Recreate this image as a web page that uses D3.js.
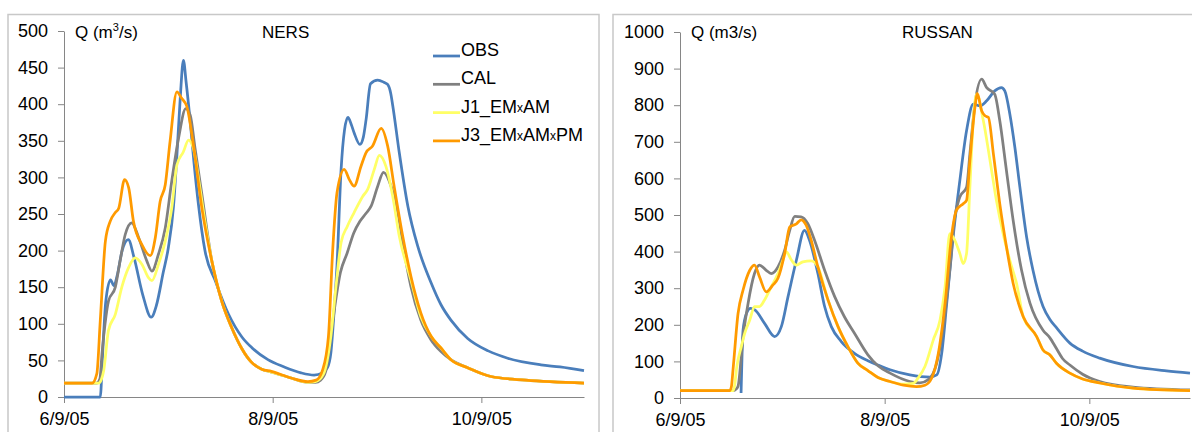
<!DOCTYPE html>
<html>
<head>
<meta charset="utf-8">
<script src="https://cdn.jsdelivr.net/npm/d3@7"></script>
<style>
  body { margin: 0; background: #fff; }
  svg text { font-family: "Liberation Sans", Arial, sans-serif; fill: #000; }
  .axis path, .axis line { stroke: #868686; }
</style>
</head>
<body>
<div id="chart"></div>
<script>
// days counted from 6/9/05, values in m3/s
const nersObs = [[0,0],[10.6,0],[11.3,60],[12.2,130],[13.6,160],[14.6,152],[15.5,165],[17,200],[18.8,215],[20.5,190],[23,140],[25.5,109],[27,125],[29,170],[30.5,204],[32,260],[33,330],[34,410],[34.9,460],[35.7,430],[36.9,376],[38,320],[39.3,263],[41.2,200],[44.2,159],[48.1,113],[52,82],[55,67],[59.6,51],[64.4,41],[69.3,33],[73.1,30],[75.5,33],[77,40],[78,60],[79,120],[79.8,180],[81,311],[82,365],[83,382],[84,372],[84.8,361],[86.5,345],[87.5,355],[88.3,379],[89.6,428],[91.7,433],[93.5,430],[94.6,427],[95.5,415],[96.1,398],[98,334],[100.5,261],[103.4,206],[107.3,156],[110.2,126],[113.1,105],[118,80],[124,63],[129.7,53],[139.4,44],[145,41],[152,36]];
const nersCal = [[0,19],[9.5,19],[10.5,25],[11.1,59],[12,100],[13,131],[15,150],[16.4,186],[17.9,222],[19.8,238],[21.8,218],[24.2,186],[25.7,172],[27.6,195],[29.6,231],[31.5,295],[33.5,354],[35.6,394],[36.9,385],[38.3,340],[40.3,277],[43.2,186],[46.1,131],[49,95],[52,66],[54.7,48],[57.8,38],[60.6,34],[66.4,26],[71.3,20],[73.5,20],[75,23],[76.5,35],[77.4,60],[78.9,115],[80.8,170],[82.8,197],[84.7,224],[86.5,240],[88.3,251],[89.8,261],[91.7,288],[93.4,307],[95.6,288],[97.6,251],[99.5,197],[101.4,151],[104.3,105],[107.3,78],[110.2,62],[113.1,51],[118,40],[124.8,28],[135,23],[152,19]];
const nersJ1 = [[0,19],[10.1,19],[11,25],[11.6,36],[13,91],[15,113],[16.9,150],[18.9,177],[20.8,190],[22.8,181],[24.7,163],[25.7,159],[27.6,181],[29.6,213],[31.5,258],[33,317],[34.9,335],[36.4,351],[37.8,340],[39.3,299],[41.2,240],[43.2,186],[46.1,131],[49,95],[52,66],[54.7,48],[57.8,38],[60.6,34],[66.4,26],[71.3,20],[73.5,21],[75.9,32],[78,83],[79.5,151],[81,211],[82.8,233],[84.7,251],[87.3,274],[88.8,284],[90.7,311],[92.2,330],[94.1,315],[96.1,274],[98,220],[101.4,160],[104.3,110],[107.3,83],[110.2,67],[113.1,51],[118,40],[124.8,28],[135,23],[152,19]];
const nersJ3 = [[0,19],[8.2,19],[9.6,32],[10.6,104],[12.1,213],[13.5,240],[15,252],[16,258],[17.7,297],[18.9,286],[20.3,240],[22.8,208],[25.2,193],[26.7,218],[28.1,267],[29.6,290],[31,349],[33,417],[34.4,408],[35.9,397],[37.8,345],[40.3,258],[43.2,186],[46.1,131],[49,95],[52,66],[54.7,48],[57.8,38],[60.6,35],[66.4,26],[71.3,21],[73.7,23],[75.6,37],[77.3,83],[78.5,197],[79.8,279],[81.9,311],[83.4,297],[84.8,288],[86.8,315],[88.3,334],[90.2,343],[92.7,367],[94.6,343],[96.5,288],[99,220],[101.4,165],[104.3,115],[107.3,83],[110.2,67],[113.1,51],[118,40],[124.8,28],[135,23],[152,19]];

const russObs = [[18.2,14],[18.5,120],[18.8,186],[19.8,231],[21,245],[22.4,240],[25.2,204],[28.2,168],[30.2,195],[32.2,277],[34.7,377],[37.1,458],[38.6,431],[41.1,340],[43.1,250],[45.1,195],[48,155],[52,122],[56,102],[59,90],[62.6,77],[68.5,63],[74.5,57],[76.5,63],[78,122],[79.5,259],[81.4,440],[83.4,594],[85.4,730],[87.4,803],[89.4,798],[91.4,812],[93.8,839],[95.8,848],[96.8,839],[98.3,776],[99.8,685],[101.3,576],[103.3,440],[105.2,349],[108.2,250],[110.2,215],[112.2,192],[116.2,150],[120,128],[125.1,109],[135,86],[145,74],[152,68]];
const russCal = [[0,20],[15.8,20],[16.8,25],[17.3,32],[18.8,168],[20.3,259],[22.2,340],[23.7,363],[25.7,349],[27.2,340],[29.2,358],[31.2,404],[32.7,458],[34.2,496],[36.1,495],[38.1,476],[40.1,431],[43.1,349],[46.1,277],[49,222],[52,177],[56,118],[59,88],[62.6,68],[68.5,45],[71.5,41],[74,50],[76.5,95],[78.5,195],[80.4,349],[81.9,494],[83.4,549],[85.4,576],[86.4,667],[87.9,803],[89.9,871],[91.4,848],[93.8,830],[95.3,758],[97.3,621],[99.3,485],[101.8,349],[104.3,259],[108.2,185],[110.2,165],[112.2,135],[114,108],[116.2,90],[120,65],[125.1,45],[135,30],[152,22]];
const russJ1 = [[0,20],[15.8,20],[16.3,35],[16.8,77],[18.3,141],[19.3,177],[20.8,213],[22.2,250],[23.7,250],[25.2,268],[27.2,304],[29.2,340],[30.7,377],[31.7,399],[33.2,377],[34.7,363],[36.6,372],[39.1,375],[41.1,358],[44.1,268],[47.1,195],[50,141],[53,95],[56,75],[59,56],[62.6,45],[66.6,38],[69.5,40],[71,55],[73,86],[75.5,159],[77.5,213],[79,304],[80.4,449],[81.9,431],[83.4,395],[84.4,367],[85.4,395],[86.4,576],[87.4,758],[88.4,830],[90.4,758],[92.4,649],[94.3,540],[96.3,449],[98.3,376],[100.3,313],[102.3,222],[106.3,168],[108.2,131],[110.2,118],[112.2,95],[116.2,68],[120,52],[125.1,41],[135,27],[152,20]];
const russJ3 = [[0,20],[14.8,20],[15.3,30],[15.8,77],[17.3,231],[18.8,295],[20.8,349],[22.2,363],[23.7,331],[25.7,290],[27.7,309],[29.2,327],[31.2,395],[32.7,467],[34.7,476],[36.1,487],[37.6,472],[39.1,431],[41.1,358],[44.1,268],[47.1,195],[50,141],[53,95],[56,75],[59,56],[62.6,45],[66.6,35],[70.5,31],[73,35],[75,54],[77,122],[79,259],[80.9,440],[82.4,513],[84.4,531],[85.4,540],[86.4,649],[87.9,794],[88.6,832],[89.9,785],[90.9,771],[91.9,767],[93.4,667],[95.3,531],[97.3,413],[99.3,313],[102.3,222],[106.3,168],[108.2,131],[110.2,118],[112.2,95],[116.2,68],[120,52],[125.1,41],[135,27],[152,20]];

const seriesNames = ["OBS", "CAL", "J1_EMxAM", "J3_EMxAMxPM"];
const seriesColors = ["#4a7ebb", "#808080", "#ffff66", "#ff9a00"];
const dateTicks = ["6/9/05", "8/9/05", "10/9/05"];
const nersTicks = [0, 50, 100, 150, 200, 250, 300, 350, 400, 450, 500];
const russTicks = [0, 100, 200, 300, 400, 500, 600, 700, 800, 900, 1000];

const parseDate = d3.timeParse("%m/%d/%y");
const start = parseDate("6/9/05");
const end = d3.timeDay.offset(start, 152);
const toDate = d => new Date(start.getTime() + d * 864e5);

const svg = d3.select("#chart").append("svg")
    .attr("width", 1192)
    .attr("height", 432);

function drawPanel(opt) {
    // outer frame
    svg.append("rect")
        .attr("x", opt.frameX).attr("y", 14.5)
        .attr("width", opt.frameW).attr("height", 440)
        .attr("fill", "none").attr("stroke", "#c8c8c8").attr("stroke-width", 1.5);

    const x = d3.scaleTime().domain([start, end]).range([opt.left, opt.right]);
    const y = d3.scaleLinear().domain([0, opt.max]).range([opt.bottom, opt.top]);

    svg.append("g")
        .attr("class", "axis")
        .attr("transform", `translate(${opt.left},0)`)
        .call(d3.axisLeft(y).tickValues(opt.ticks).tickSize(6).tickSizeOuter(0).tickPadding(10)
            .tickFormat(d3.format("d")))
        .call(g => g.selectAll("text").style("font-size", "18px"));

    svg.append("g")
        .attr("class", "axis")
        .attr("transform", `translate(0,${opt.bottom})`)
        .call(d3.axisBottom(x).tickValues(dateTicks.map(parseDate)).tickSize(6).tickSizeOuter(0).tickPadding(9)
            .tickFormat(d3.timeFormat("%-m/%-d/%y")))
        .call(g => g.selectAll("text").style("font-size", "18px"));

    const line = d3.line()
        .x(d => x(toDate(d[0])))
        .y(d => y(d[1]))
        .curve(d3.curveMonotoneX);

    svg.append("g").selectAll("path")
        .data(opt.series)
        .join("path")
        .attr("fill", "none")
        .attr("stroke", (d, i) => seriesColors[i])
        .attr("stroke-width", 2.75)
        .attr("stroke-linejoin", "round")
        .attr("d", d => line(d));

    // unit label and station name
    const q = svg.append("text")
        .attr("x", opt.qX).attr("y", 38)
        .style("font-size", "17px");
    if (opt.sup) {
        q.append("tspan").text("Q (m");
        q.append("tspan").attr("dy", -7).style("font-size", "11px").text("3");
        q.append("tspan").attr("dy", 7).text("/s)");
    } else {
        q.text("Q (m3/s)");
    }
    svg.append("text")
        .attr("x", opt.titleX).attr("y", 38)
        .style("font-size", "17px")
        .text(opt.title);
}

drawPanel({
    frameX: 8, frameW: 591, left: 64, right: 584, top: 31, bottom: 397,
    max: 500, ticks: nersTicks, series: [nersObs, nersCal, nersJ1, nersJ3],
    qX: 75, titleX: 262, title: "NERS", sup: true
});
drawPanel({
    frameX: 613, frameW: 600, left: 680, right: 1190, top: 32, bottom: 398,
    max: 1000, ticks: russTicks, series: [russObs, russCal, russJ1, russJ3],
    qX: 691, titleX: 902, title: "RUSSAN", sup: false
});

// legend (left panel)
const legend = svg.append("g").attr("transform", "translate(433,56)");
seriesNames.forEach((name, i) => {
    const row = legend.append("g").attr("transform", `translate(0,${i * 28.3})`);
    row.append("line")
        .attr("x1", 0).attr("x2", 27)
        .attr("stroke", seriesColors[i]).attr("stroke-width", 2.75);
    const t = row.append("text").attr("x", 28).attr("dy", "0.36em").style("font-size", "18px");
    name.split("x").forEach((part, j) => {
        if (j > 0) t.append("tspan").style("font-size", "12px").attr("dy", -1).text("x");
        t.append("tspan").attr("dy", j > 0 ? 1 : 0).text(part);
    });
});
</script>
</body>
</html>
